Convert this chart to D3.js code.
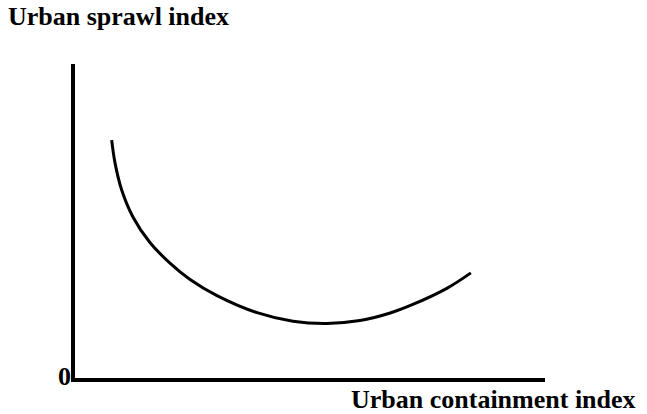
<!DOCTYPE html>
<html>
<head>
<meta charset="utf-8">
<script src="https://cdn.jsdelivr.net/npm/d3@7"></script>
<style>
  body { margin: 0; background: #fff; }
</style>
</head>
<body>
<div id="container"></div>
<script>
// curve (axis units 0..100)
const containment = [8.2, 8.9, 10.3, 12.7, 16.3, 20.6, 24.8, 30.5, 39.0, 46.6, 53.8, 60.8, 67.2, 72.0, 79.2, 84.3];
const sprawl      = [75.9, 68.7, 60.2, 51.6, 43.5, 36.9, 31.8, 26.7, 21.3, 18.6, 17.9, 18.8, 21.2, 23.9, 29.0, 33.9];
const yTitle = "Urban sprawl index";
const xTitle = "Urban containment index";
const originLabel = "0";

const width = 647, height = 414;
const margin = { top: 64, right: 102, bottom: 34, left: 73 };
const serif = "'Liberation Serif', 'Times New Roman', Times, 'DejaVu Serif', serif";

const svg = d3.select("#container").append("svg")
    .attr("width", width)
    .attr("height", height);

const xScale = d3.scaleLinear().domain([0, 100]).range([margin.left, width - margin.right]);
const yScale = d3.scaleLinear().domain([0, 100]).range([height - margin.bottom, margin.top]);

// axes drawn as plain lines, no ticks
const axisLine = d3.line().x(d => xScale(d[0])).y(d => yScale(d[1]));
svg.append("path")
    .attr("d", axisLine([[0, 100], [0, 0], [100, 0]]))
    .attr("fill", "none")
    .attr("stroke", "black")
    .attr("stroke-width", 4)
    .attr("stroke-linejoin", "miter");

const data = containment.map((c, i) => ({ x: c, y: sprawl[i] }));
const curve = d3.line()
    .x(d => xScale(d.x))
    .y(d => yScale(d.y))
    .curve(d3.curveCatmullRom.alpha(0.5));

svg.append("path")
    .attr("d", curve(data))
    .attr("fill", "none")
    .attr("stroke", "black")
    .attr("stroke-width", 3);

const label = (x, y, txt, anchor) => svg.append("text")
    .attr("x", x)
    .attr("y", y)
    .attr("text-anchor", anchor)
    .attr("font-family", serif)
    .attr("font-weight", "bold")
    .attr("font-size", 26)
    .text(txt);

label(8, 25, yTitle, "start");
label(xScale(0) - 2, yScale(0) + 5, originLabel, "end");
label(351, 408, xTitle, "start");
</script>
</body>
</html>
